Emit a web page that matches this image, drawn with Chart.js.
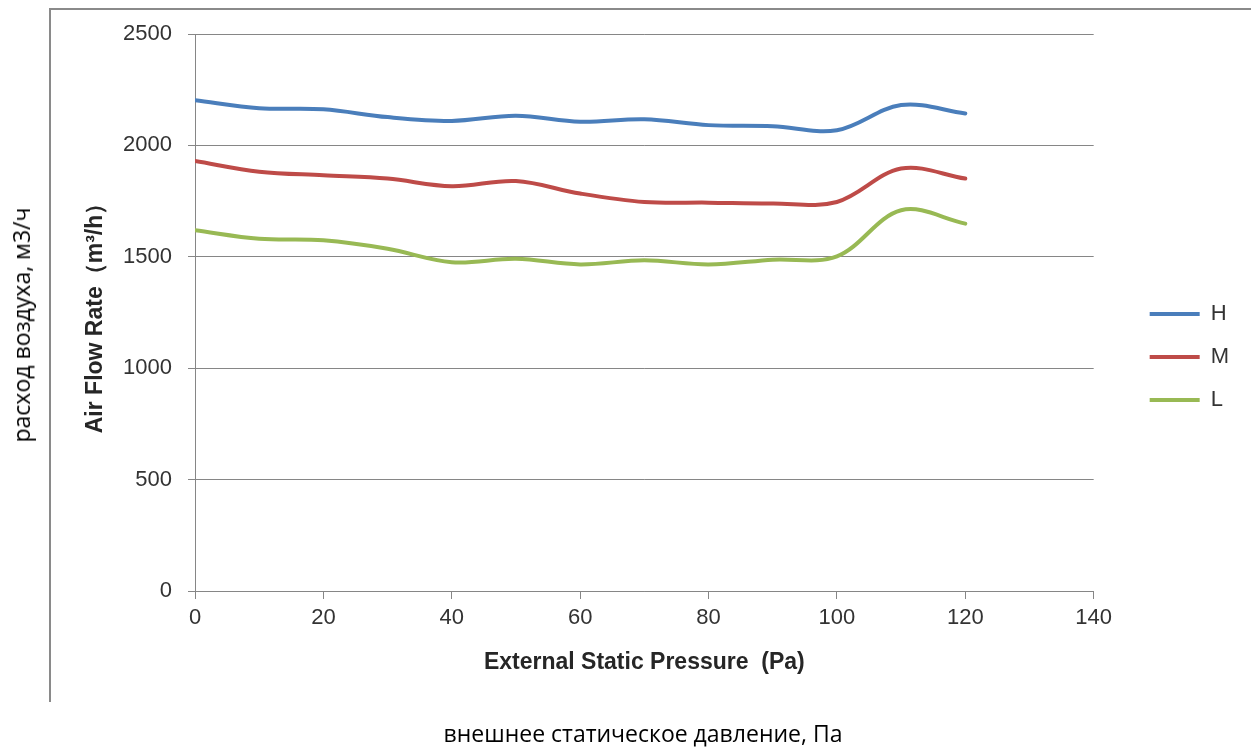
<!DOCTYPE html>
<html>
<head>
<meta charset="utf-8">
<script src="https://cdn.jsdelivr.net/npm/chart.js@4"></script>
<style>
  body { margin: 0; background: #fff; }
  #wrap { position: relative; width: 1251px; height: 754px; overflow: hidden; }
  #frame {
    position: absolute; left: 49px; top: 8px; width: 1210px; height: 692px;
    border-left: 2px solid #8a8a8a; border-top: 2px solid #8a8a8a;
  }
  #chart { position: absolute; left: 0; top: 0; }
  .ru { position: absolute; font-family: "Open Sans", sans-serif; font-size: 23px; color: #000; white-space: nowrap; }
  #ru-y { left: 21px; top: 325px; transform: translate(-50%, -50%) rotate(-90deg); }
  #ru-x { left: 643px; top: 733px; transform: translate(-50%, -50%); }
</style>
</head>
<body>
<div id="wrap">
  <div id="frame"></div>
  <canvas id="chart" width="1251" height="754"></canvas>
  <div class="ru" id="ru-y">расход воздуха, м3/ч</div>
  <div class="ru" id="ru-x">внешнее статическое давление, Па</div>
</div>
<script>
// air flow vs external static pressure, three fan speeds

const pressure = [0, 10, 20, 30, 40, 50, 60, 70, 80, 90, 100, 110, 120];
const flowH = [2203, 2167, 2162, 2127, 2110, 2133, 2106, 2117, 2091, 2086, 2068, 2181, 2143];
const flowM = [1930, 1882, 1866, 1851, 1817, 1840, 1784, 1746, 1743, 1739, 1746, 1896, 1851];
const flowL = [1619, 1581, 1574, 1536, 1476, 1491, 1466, 1484, 1466, 1487, 1502, 1709, 1649];

const seriesNames = ["H", "M", "L"];
const seriesColors = ["#4a7ebb", "#be4b48", "#98b954"];

function toPoints(values) {
  return pressure.map((p, i) => ({ x: p, y: values[i] }));
}

const gridColor = "#868686";
const tickFont = { family: "'Liberation Sans', Arial, sans-serif", size: 22 };
const titleFont = { family: "'Liberation Sans', Arial, sans-serif", size: 23, weight: "bold" };

new Chart(document.getElementById("chart"), {
  type: "line",
  data: {
    datasets: [flowH, flowM, flowL].map((vals, i) => ({
      label: seriesNames[i],
      data: toPoints(vals),
      borderColor: seriesColors[i],
      backgroundColor: seriesColors[i],
      borderWidth: 4,
      borderCapStyle: "round",
      pointRadius: 0,
      tension: 0.35,
      fill: false
    }))
  },
  options: {
    responsive: false,
    animation: false,
    layout: { padding: { left: 80, top: 34, right: 12, bottom: 74 } },
    plugins: {
      tooltip: { enabled: false },
      legend: {
        position: "right",
        labels: {
          usePointStyle: true,
          pointStyle: "line",
          pointStyleWidth: 50,
          padding: 21,
          color: "#333",
          font: { family: "'Liberation Sans', Arial, sans-serif", size: 22 }
        }
      }
    },
    scales: {
      x: {
        type: "linear",
        min: 0,
        max: 140,
        ticks: { stepSize: 20, color: "#333", font: tickFont, padding: 6, maxRotation: 0, callback: (v) => String(v) },
        grid: { drawOnChartArea: false, drawTicks: true, tickLength: 8, color: gridColor },
        border: { color: gridColor },
        title: {
          display: true,
          text: "External Static Pressure  (Pa)",
          color: "#262626",
          font: titleFont,
          padding: { top: 8, bottom: 4 }
        },
        afterFit: (s) => { s.height = 89; }
      },
      y: {
        min: 0,
        max: 2500,
        ticks: { stepSize: 500, color: "#333", font: tickFont, padding: 16, callback: (v) => String(v) },
        grid: { color: gridColor, tickLength: 7 },
        border: { color: gridColor },
        title: {
          display: true,
          text: "Air Flow Rate（m³/h）",
          color: "#262626",
          font: titleFont,
          padding: { top: 2, bottom: 4 }
        },
        afterFit: (s) => { s.width = 115; }
      },
      gap: {
        position: "right",
        display: true,
        ticks: { display: false },
        grid: { display: false },
        border: { display: false },
        afterFit: (s) => { s.width = 35; }
      }
    }
  }
});
</script>
</body>
</html>
